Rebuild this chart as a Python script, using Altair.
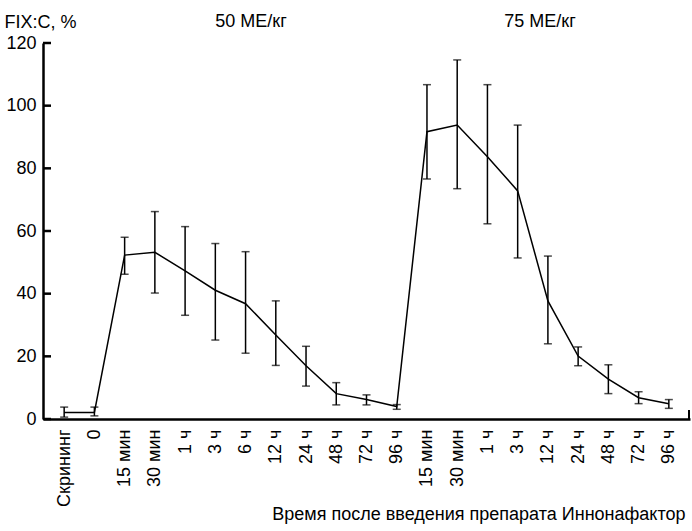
import altair as alt
import pandas as pd

keys = [f"k{i:02d}" for i in range(21)]
labels = ["Скрининг", "0", "15 мин", "30 мин", "1 ч", "3 ч", "6 ч", "12 ч", "24 ч", "48 ч", "72 ч", "96 ч",
          "15 мин", "30 мин", "1 ч", "3 ч", "12 ч", "24 ч", "48 ч", "72 ч", "96 ч"]
means = [2.1, 2.1, 52.3, 53.2, 47.3, 41.1, 36.8, 26.8, 17.0, 8.1, 6.2, 4.0,
         91.7, 93.8, 83.7, 72.8, 37.7, 20.1, 12.7, 6.8, 4.9]
upper = [3.8, 3.8, 58.0, 66.2, 61.4, 56.0, 53.4, 37.7, 23.2, 11.6, 7.7, 4.6,
         106.7, 114.6, 106.7, 93.8, 52.0, 23.0, 17.3, 8.7, 6.2]
lower = [0.6, 1.0, 46.2, 40.2, 33.1, 25.2, 21.0, 17.1, 10.5, 4.5, 4.5, 3.1,
         76.6, 73.5, 62.3, 51.4, 24.0, 17.0, 8.1, 4.9, 3.4]
y_ticks = [0, 20, 40, 60, 80, 100, 120]
dose_labels = ["50 МЕ/кг", "75 МЕ/кг"]

df = pd.DataFrame({"key": keys, "label": labels, "mean": means, "hi": upper, "lo": lower})
lab_map = "{" + ",".join(f"'{k}':'{l}'" for k, l in zip(keys, labels)) + "}"

FONT = "Liberation Sans"
FS = 18
W, H = 647, 376

xscale = alt.Scale(type="point", domain=keys, padding=0.7)
yscale = alt.Scale(domain=[0, 120], nice=False)

x = alt.X("key:N", scale=xscale, sort=keys,
          axis=alt.Axis(title="Время после введения препарата Иннонафактор",
                        labelExpr=f"{lab_map}[datum.value]",
                        labelAngle=-90, ticks=False, labelPadding=10,
                        titleX=W - 5, titleY=100, titleAlign="right", titleBaseline="alphabetic",
                        titleFontWeight="normal"))
y = alt.Y("mean:Q", scale=yscale,
          axis=alt.Axis(values=y_ticks, title="FIX:C, %", titleAngle=0, titleX=-39, titleY=-16,
                        titleAlign="left", titleBaseline="alphabetic", titleFontWeight="normal",
                        ticks=False, labelPadding=7, grid=False))

base = alt.Chart(df)

line = base.mark_line(color="black", strokeWidth=1.5).encode(x=x, y=y)
bars = base.mark_rule(color="black", strokeWidth=1.5).encode(
    x=alt.X("key:N", scale=xscale, sort=keys), y=alt.Y("lo:Q", scale=yscale), y2="hi:Q")
cap_hi = base.mark_tick(color="black", thickness=1.5, size=8, orient="horizontal").encode(
    x=alt.X("key:N", scale=xscale, sort=keys), y=alt.Y("hi:Q", scale=yscale))
cap_lo = base.mark_tick(color="black", thickness=1.5, size=8, orient="horizontal").encode(
    x=alt.X("key:N", scale=xscale, sort=keys), y=alt.Y("lo:Q", scale=yscale))

ticks = alt.Chart(pd.DataFrame({"v": y_ticks})).mark_rule(color="black", strokeWidth=2.5).encode(
    x=alt.value(0), x2=alt.value(8), y=alt.Y("v:Q", scale=yscale))
end_tick = alt.Chart(pd.DataFrame({"v": [0]})).mark_rule(color="black", strokeWidth=2).encode(
    x=alt.value(W - 1), y=alt.value(H), y2=alt.value(H - 9))

dose = alt.Chart(pd.DataFrame({"t": dose_labels, "px": [208, 497]})).mark_text(
    font=FONT, fontSize=FS, color="black", baseline="alphabetic").encode(
    text="t:N", x=alt.X("px:Q", scale=None), y=alt.value(-16))

chart = alt.layer(bars, cap_hi, cap_lo, line, ticks, end_tick, dose).properties(
    width=W, height=H,
    autosize=alt.AutoSizeParams(type="none"),
    padding={"left": 43, "top": 43, "right": 2, "bottom": 112},
).configure(background="white").configure_view(stroke=None).configure_axis(
    domainColor="black", domainWidth=2.5, labelColor="black", titleColor="black",
    labelFont=FONT, titleFont=FONT, labelFontSize=FS, titleFontSize=FS,
)

chart.save("out.html", embed_options={"renderer": "svg", "actions": False})
